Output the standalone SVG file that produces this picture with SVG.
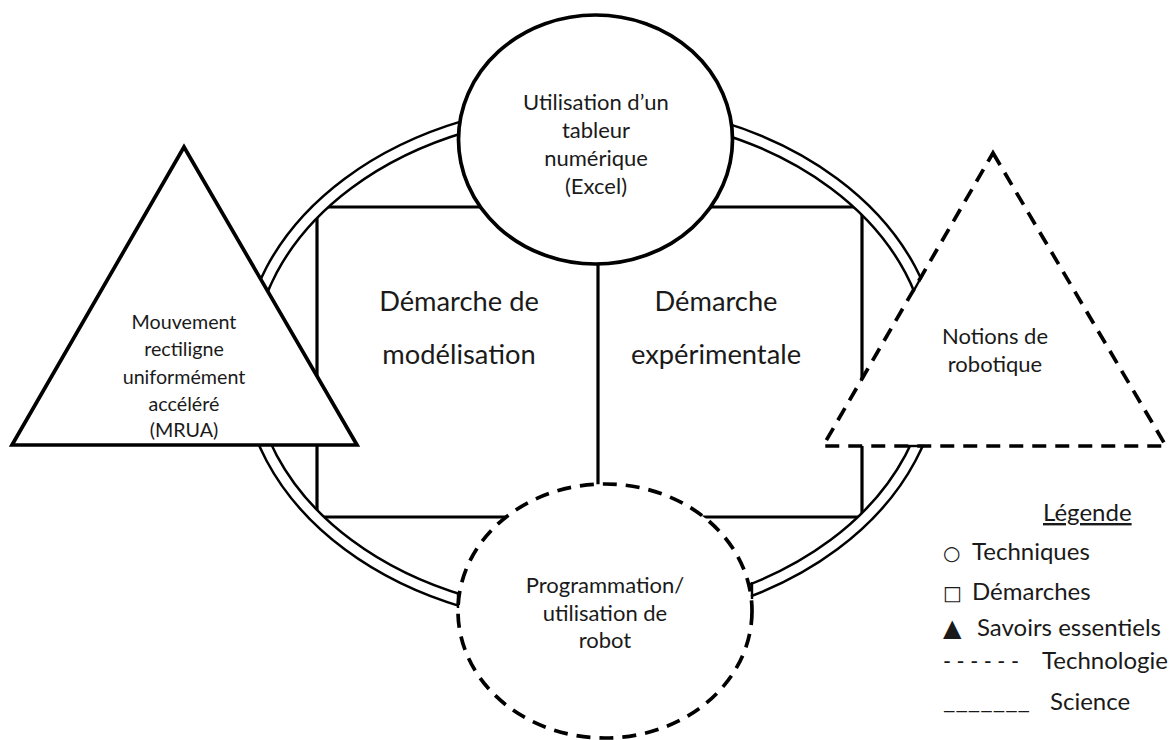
<svg xmlns="http://www.w3.org/2000/svg" width="1173" height="740" viewBox="0 0 1173 740">
<style>
.bg{fill:#fff}
.ln{fill:none;stroke:#000;stroke-width:3.2}
.solid{fill:#fff;stroke:#000;stroke-width:3.7}
.dash{fill:#fff;stroke:#000;stroke-width:3.7;stroke-dasharray:14 9}
.ringB{fill:none;stroke:#000;stroke-width:14}
.ringW{fill:none;stroke:#fff;stroke-width:9}
.cap{stroke:#000;stroke-width:2.4;fill:none}
.t{font-family:Lato,"Open Sans","Liberation Sans",sans-serif;fill:#1a1a1a;text-anchor:middle}
.s{font-size:19.7px}
.m{font-size:22px}
.b{font-size:27.3px}
.lg{font-family:Lato,"Open Sans","Liberation Sans",sans-serif;fill:#1a1a1a;font-size:24px}
.sym{font-family:"DejaVu Sans",sans-serif}
</style>
<rect class="bg" x="0" y="0" width="1173" height="740"/>

<g id="rect-modelisation">
<path class="ln" d="M598,207 H317 V517 H598"/>
<text class="t b" x="459" y="311">Démarche de</text>
<text class="t b" x="459" y="364">modélisation</text>
</g>
<g id="rect-experimentale">
<path class="ln" d="M598,207 H862 V517 H598"/>
<text class="t b" x="716" y="311">Démarche</text>
<text class="t b" x="716" y="364">expérimentale</text>
</g>

<g id="connectors">
<line class="ln" x1="598" y1="207" x2="598" y2="517"/>
<ellipse class="ringB" cx="591" cy="364" rx="343.5" ry="255.5"/>
<ellipse class="ringW" cx="591" cy="364" rx="343.5" ry="255.5"/>
</g>

<g id="tableur">
<ellipse class="solid" cx="595.5" cy="139.5" rx="137" ry="124.5"/>
<text class="t m" x="596" y="110">Utilisation d’un</text>
<text class="t m" x="596" y="138">tableur</text>
<text class="t m" x="596" y="166">numérique</text>
<text class="t m" x="596" y="194">(Excel)</text>
</g>

<g id="robot-programmation">
<ellipse class="dash" cx="605" cy="611" rx="147" ry="127"/>
<text class="t m" x="605" y="593">Programmation/</text>
<text class="t m" x="605" y="621">utilisation de</text>
<text class="t m" x="605" y="648">robot</text>
</g>

<g id="mrua">
<polygon class="solid" points="184,147 357,445 12,445"/>
<text class="t s" x="184" y="329">Mouvement</text>
<text class="t s" x="184" y="356">rectiligne</text>
<text class="t s" x="184" y="384">uniformément</text>
<text class="t s" x="184" y="411">accéléré</text>
<text class="t s" x="184" y="437">(MRUA)</text>
</g>

<g id="robotique">
<polygon class="dash" points="993,153 1166,446 823,446"/>
<text class="t m" x="995" y="344">Notions de</text>
<text class="t m" x="995" y="372">robotique</text>
</g>

<g id="ring-caps">
<line class="cap" x1="458" y1="592" x2="458" y2="608"/>
<line class="cap" x1="752" y1="582" x2="752" y2="599"/>
<line class="cap" x1="913" y1="292" x2="923" y2="274"/>
<line class="cap" x1="908" y1="446" x2="925" y2="446"/>
</g>

<g id="legende">
<text class="lg" x="1043" y="521" text-decoration="underline">Légende</text>
<text class="lg" x="943" y="560"><tspan class="sym" font-size="20">○</tspan><tspan x="972">Techniques</tspan></text>
<text class="lg" x="943" y="600"><tspan class="sym" font-size="20">□</tspan><tspan x="972">Démarches</tspan></text>
<text class="lg" x="943" y="636"><tspan class="sym" font-size="24">▲</tspan><tspan x="977">Savoirs essentiels</tspan></text>
<text class="lg" x="943" y="669" textLength="76" lengthAdjust="spacingAndGlyphs">- - - - - -</text>
<text class="lg" x="1042" y="669">Technologie</text>
<text class="lg" x="943" y="709" textLength="87" lengthAdjust="spacingAndGlyphs">_______</text>
<text class="lg" x="1050" y="710">Science</text>
</g>
</svg>
